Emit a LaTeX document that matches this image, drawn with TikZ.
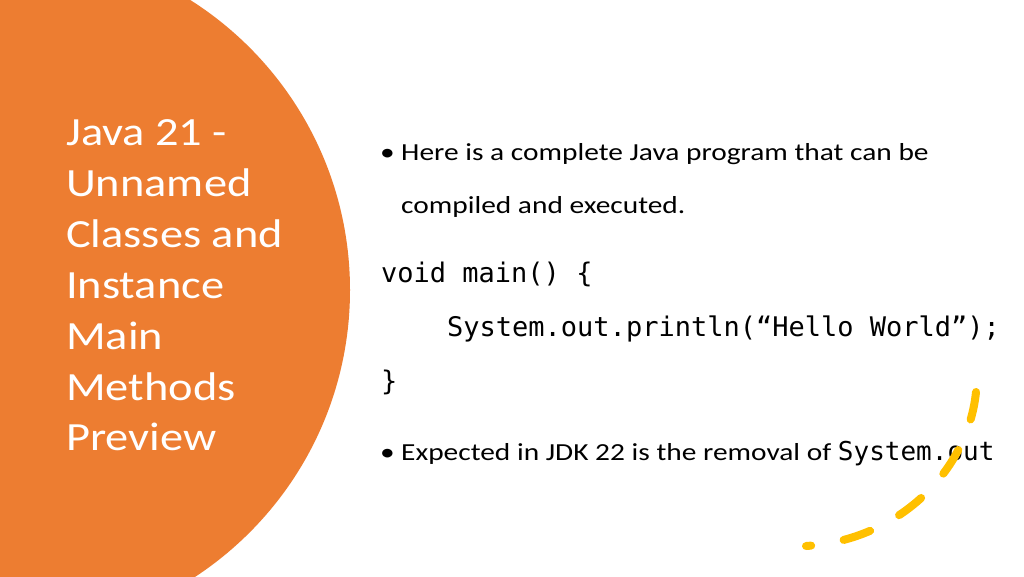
\documentclass[tikz,border=0pt]{standalone}
\usepackage{fontspec}
\setmainfont{Carlito}
\setmonofont{DejaVu Sans Mono}
\newfontfamily\titlefont[FakeStretch=1.16]{Carlito}
\newfontfamily\bodyfont[FakeStretch=1.2]{Carlito}
\usetikzlibrary{positioning}
\definecolor{slideorange}{HTML}{ED7D31}
\definecolor{slideyellow}{HTML}{FFC000}
\begin{document}
\begin{tikzpicture}[
    x=1pt, y=-1pt,
    title/.style={anchor=base west, inner sep=0pt, text=white, font=\titlefont\fontsize{40}{51}\selectfont, align=left},
    body/.style={anchor=base west, inner sep=0pt, font=\bodyfont\fontsize{24.5}{30}\selectfont},
    code/.style={anchor=base west, inner sep=0pt, font=\ttfamily\fontsize{27}{32}\selectfont}
]
    \useasboundingbox[fill=white] (0,0) rectangle (1024,576);
    % Orange disc
    \begin{scope}
        \clip (0,0) rectangle (1024,576);
        \fill[slideorange] (7,290) circle[radius=343];
    \end{scope}

    % Title
    \node[title] (t1) at (66,145) {Java 21 -};
    \node[title] (t2) at (66,196) {Unnamed};
    \node[title] (t3) at (66,247) {Classes and};
    \node[title] (t4) at (66,298) {Instance};
    \node[title] (t5) at (66,349) {Main};
    \node[title] (t6) at (66,400) {Methods};
    \node[title] (t7) at (66,450) {Preview};

    % Bullets
    \node[body] (b1) at (380,160) {\textbullet};
    \node[body] (l1) at (401,160) {Here is a complete Java program that can be};
    \node[body] (l2) at (401,213) {compiled and executed.};

    % Code
    \node[code] (c1) at (381,282) {void main() \{};
    \node[code] (c2) at (447,336) {System.out.println(“Hello World”);};
    \node[code] (c3) at (381,390) {\}};

    \node[body] (b2) at (380,460) {\textbullet};
    \node[body] (l3) at (401,460) {Expected in JDK 22 is the removal of {\ttfamily\fontsize{26}{30}\selectfont System.out}};

    % Dashed stroke
    \draw[slideyellow, line width=8, line cap=round, dash pattern=on 28 off 33]
        (976,392) .. controls (968,470) and (900,540) .. (806,546);
\end{tikzpicture}
\end{document}
